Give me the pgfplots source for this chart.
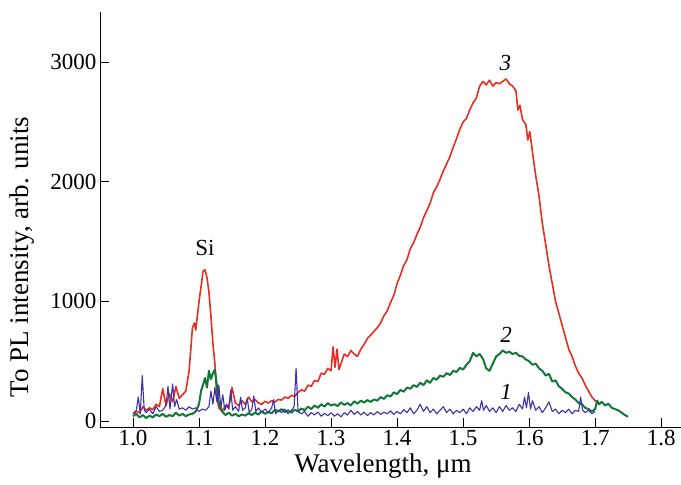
\documentclass[border=0pt]{standalone}
\usepackage{pgfplots}
\pgfplotsset{compat=1.18}
\usepackage{fontspec}
\setmainfont{Liberation Serif}

\definecolor{cred}{RGB}{232,45,35}
\definecolor{cgreen}{RGB}{20,118,55}
\definecolor{cblue}{RGB}{62,50,168}

\begin{document}
\begin{tikzpicture}
\begin{axis}[
    scale only axis,
    width=581bp, height=415bp,
    xmin=0.95, xmax=1.83,
    ymin=-50, ymax=3420,
    axis x line=bottom, axis y line=left,
    axis line style={-, line width=0.9bp},
    tick align=inside,
    major tick length=9bp,
    tick style={black, line width=0.9bp},
    xtick={1.0,1.1,...,1.8},
    ytick={0,1000,2000,3000},
    /pgf/number format/assume math mode=true,
    /pgf/number format/1000 sep={},
    xticklabel style={/pgf/number format/fixed, /pgf/number format/fixed zerofill, /pgf/number format/precision=1},
    tick label style={font=\fontsize{23bp}{26bp}\selectfont},
    xlabel={Wavelength, μm},
    ylabel={To PL intensity, arb. units},
    every axis x label/.style={at={(axis description cs:0.487,-0.094)}, anchor=center, font=\fontsize{27bp}{30bp}\selectfont},
    every axis y label/.style={at={(axis description cs:-0.134,0.41)}, rotate=90, anchor=center, font=\fontsize{27bp}{30bp}\selectfont},
    clip=false,
]
% curve 3
\addplot[cred, line width=1.6bp, line join=round] coordinates {
(1.000,60) (1.005,80) (1.010,70) (1.015,120) (1.020,90) (1.025,110) (1.030,95) (1.035,140) (1.040,120) (1.045,270)
(1.050,130) (1.055,230) (1.060,160) (1.065,290) (1.070,190) (1.075,220) (1.080,250) (1.085,420) (1.090,780) (1.093,820)
(1.095,760) (1.100,1000) (1.103,1120) (1.106,1250) (1.109,1265) (1.112,1200) (1.115,1080) (1.118,880) (1.121,650) (1.124,480)
(1.127,200) (1.130,110) (1.135,80) (1.140,130) (1.145,110) (1.150,280) (1.155,150) (1.160,130) (1.165,170) (1.170,140)
(1.175,200) (1.180,160) (1.185,180) (1.190,150) (1.195,140) (1.200,165) (1.205,150) (1.210,170) (1.215,160) (1.220,180)
(1.225,175) (1.230,200) (1.235,190) (1.240,215) (1.245,205) (1.250,240) (1.255,260) (1.260,250) (1.265,300) (1.270,290)
(1.275,340) (1.280,330) (1.285,400) (1.290,390) (1.295,440) (1.300,420) (1.303,620) (1.306,450) (1.309,600) (1.312,430)
(1.315,480) (1.320,560) (1.325,540) (1.330,590) (1.335,560) (1.340,540) (1.345,600) (1.350,640) (1.355,690) (1.360,720)
(1.365,750) (1.370,780) (1.375,820) (1.380,880) (1.385,920) (1.390,990) (1.395,1050) (1.400,1150) (1.405,1220) (1.410,1300)
(1.415,1350) (1.420,1440) (1.425,1490) (1.430,1560) (1.435,1620) (1.440,1700) (1.445,1760) (1.450,1820) (1.455,1910) (1.460,1960)
(1.465,2020) (1.470,2090) (1.475,2150) (1.480,2210) (1.485,2290) (1.490,2360) (1.495,2440) (1.500,2500) (1.505,2530) (1.510,2600)
(1.515,2660) (1.520,2700) (1.525,2800) (1.530,2840) (1.535,2810) (1.540,2850) (1.545,2800) (1.550,2830) (1.555,2820) (1.560,2840)
(1.565,2860) (1.570,2820) (1.575,2800) (1.580,2760) (1.583,2600) (1.586,2640) (1.590,2520) (1.595,2480) (1.598,2350) (1.601,2420)
(1.605,2250) (1.610,2050) (1.615,1880) (1.620,1650) (1.625,1480) (1.630,1300) (1.635,1150) (1.640,1000) (1.645,900) (1.650,800)
(1.655,700) (1.660,600) (1.665,540) (1.670,460) (1.675,400) (1.680,360) (1.685,300) (1.690,250) (1.695,200) (1.700,170)
(1.705,150)
};
% curve 2
\addplot[cgreen, line width=2bp, line join=round] coordinates {
(1.000,40) (1.005,60) (1.010,30) (1.015,50) (1.020,25) (1.025,45) (1.030,30) (1.035,55) (1.040,40) (1.045,60)
(1.050,35) (1.055,50) (1.060,40) (1.065,70) (1.070,45) (1.075,60) (1.080,40) (1.085,55) (1.090,60) (1.095,80)
(1.100,140) (1.103,250) (1.106,300) (1.109,360) (1.112,280) (1.115,420) (1.118,350) (1.121,400) (1.124,430) (1.127,300)
(1.130,150) (1.135,80) (1.140,50) (1.145,70) (1.150,45) (1.155,60) (1.160,40) (1.165,55) (1.170,45) (1.175,65)
(1.180,50) (1.185,70) (1.190,55) (1.195,80) (1.200,60) (1.205,75) (1.210,65) (1.215,95) (1.220,80) (1.225,100)
(1.230,75) (1.235,90) (1.240,70) (1.245,95) (1.250,80) (1.255,105) (1.260,90) (1.265,120) (1.270,100) (1.275,130)
(1.280,110) (1.285,140) (1.290,120) (1.295,150) (1.300,130) (1.305,140) (1.310,125) (1.315,155) (1.320,135) (1.325,150)
(1.330,130) (1.335,165) (1.340,145) (1.345,170) (1.350,155) (1.355,175) (1.360,160) (1.365,180) (1.370,170) (1.375,200)
(1.380,185) (1.385,215) (1.390,205) (1.395,240) (1.400,225) (1.405,260) (1.410,245) (1.415,280) (1.420,270) (1.425,300)
(1.430,285) (1.435,320) (1.440,300) (1.445,340) (1.450,320) (1.455,360) (1.460,345) (1.465,380) (1.470,370) (1.475,400)
(1.480,385) (1.485,420) (1.490,410) (1.495,445) (1.500,430) (1.505,470) (1.510,500) (1.515,570) (1.520,540) (1.525,560)
(1.530,520) (1.535,440) (1.540,420) (1.545,480) (1.550,540) (1.555,560) (1.560,590) (1.565,570) (1.570,580) (1.575,560)
(1.580,570) (1.585,545) (1.590,540) (1.595,515) (1.600,500) (1.605,470) (1.610,480) (1.615,440) (1.620,420) (1.625,380)
(1.630,395) (1.635,330) (1.640,340) (1.645,290) (1.650,270) (1.655,240) (1.660,230) (1.665,200) (1.670,180) (1.675,150)
(1.680,140) (1.685,110) (1.690,100) (1.695,80) (1.700,100) (1.703,170) (1.706,140) (1.710,160) (1.715,130) (1.720,145)
(1.725,110) (1.730,100) (1.735,90) (1.740,70) (1.745,50) (1.750,35)
};
% curve 1
\addplot[cblue, line width=1.1bp, line join=round] coordinates {
(1.000,60) (1.005,90) (1.008,200) (1.011,60) (1.014,380) (1.017,90) (1.020,70) (1.025,100) (1.030,60) (1.035,120)
(1.040,80) (1.045,90) (1.050,130) (1.053,290) (1.056,100) (1.060,310) (1.063,120) (1.066,180) (1.070,100) (1.075,110)
(1.080,90) (1.085,120) (1.090,100) (1.095,110) (1.100,80) (1.105,100) (1.110,90) (1.115,120) (1.118,250) (1.121,140)
(1.124,280) (1.127,160) (1.130,300) (1.133,110) (1.136,220) (1.139,90) (1.142,140) (1.145,100) (1.148,260) (1.151,90)
(1.155,120) (1.160,80) (1.163,200) (1.166,90) (1.170,110) (1.173,190) (1.176,70) (1.180,100) (1.183,210) (1.186,80)
(1.190,110) (1.195,70) (1.200,100) (1.205,70) (1.210,110) (1.213,180) (1.216,60) (1.220,90) (1.225,70) (1.230,100)
(1.235,60) (1.240,90) (1.244,120) (1.247,440) (1.250,80) (1.255,60) (1.260,80) (1.265,40) (1.270,70) (1.275,50)
(1.280,75) (1.285,40) (1.290,65) (1.295,45) (1.300,70) (1.305,40) (1.310,60) (1.315,35) (1.320,70) (1.325,50)
(1.330,90) (1.335,55) (1.340,80) (1.345,50) (1.350,75) (1.355,45) (1.360,70) (1.365,50) (1.370,80) (1.375,55)
(1.380,75) (1.385,60) (1.390,85) (1.395,55) (1.400,80) (1.405,60) (1.410,95) (1.415,70) (1.420,110) (1.425,60)
(1.430,90) (1.435,140) (1.440,80) (1.445,120) (1.450,70) (1.455,100) (1.460,60) (1.465,90) (1.470,120) (1.475,70)
(1.480,100) (1.485,60) (1.490,90) (1.495,70) (1.500,100) (1.505,60) (1.510,110) (1.515,80) (1.520,120) (1.525,90)
(1.528,170) (1.531,90) (1.535,130) (1.540,80) (1.545,110) (1.550,70) (1.555,120) (1.560,80) (1.565,130) (1.570,90)
(1.575,110) (1.580,80) (1.585,140) (1.590,100) (1.593,200) (1.596,110) (1.599,240) (1.602,100) (1.605,170) (1.610,90)
(1.615,120) (1.620,70) (1.625,110) (1.630,160) (1.635,80) (1.640,100) (1.645,60) (1.650,90) (1.655,70) (1.660,100)
(1.665,60) (1.670,90) (1.675,80) (1.678,200) (1.681,90) (1.685,70) (1.690,90) (1.695,60) (1.700,80)
};
\node[font=\fontsize{23bp}{26bp}\selectfont] at (axis cs:1.109,1450) {Si};
\node[font=\fontsize{23bp}{26bp}\selectfont\itshape] at (axis cs:1.564,2990) {3};
\node[font=\fontsize{23bp}{26bp}\selectfont\itshape] at (axis cs:1.565,720) {2};
\node[font=\fontsize{23bp}{26bp}\selectfont\itshape] at (axis cs:1.565,246) {1};
\end{axis}
\pgfresetboundingbox
\useasboundingbox (-100bp,-58bp) rectangle (581bp,427bp);
\end{tikzpicture}
\end{document}
